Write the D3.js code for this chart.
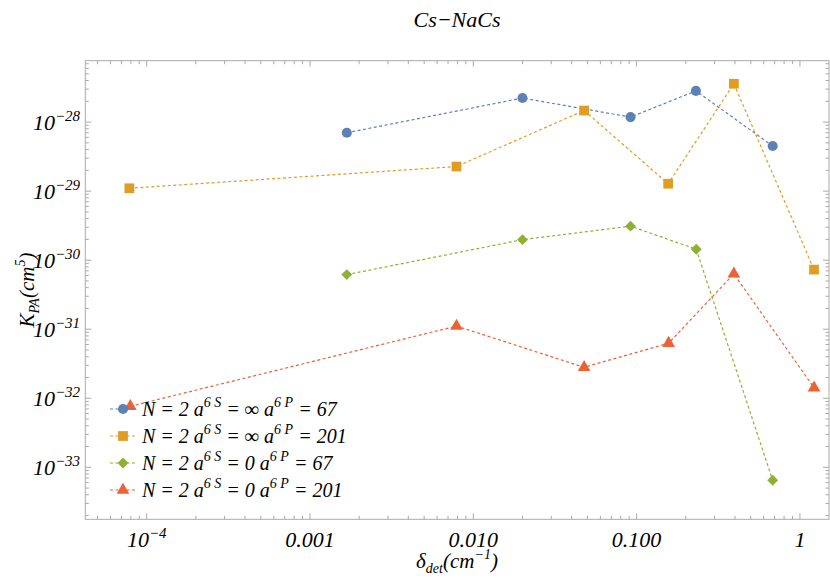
<!DOCTYPE html>
<html>
<head>
<meta charset="UTF-8">
<script src="https://d3js.org/d3.v7.min.js"></script>
<style>
  body { margin: 0; background: white; }
  svg text { font-family: "Liberation Serif", "Times New Roman", "DejaVu Serif", serif; font-style: italic; }
</style>
</head>
<body>
<svg></svg>
<script>
  const width = 830, height = 580;

  // data
  const xBlue = [0.00168, 0.0200, 0.0918, 0.2307, 0.681];
  const yBlue = [7.0e-29, 2.23e-28, 1.18e-28, 2.83e-28, 4.5e-29];
  const xOrange = [7.83e-5, 0.00789, 0.0477, 0.156, 0.394, 1.22];
  const yOrange = [1.10e-29, 2.27e-29, 1.47e-28, 1.28e-29, 3.59e-28, 7.3e-31];
  const xGreen = [0.00168, 0.0200, 0.0918, 0.2317, 0.681];
  const yGreen = [6.18e-31, 1.98e-30, 3.11e-30, 1.44e-30, 6.5e-34];
  const xRed = [7.94e-5, 0.00789, 0.0477, 0.157, 0.394, 1.22];
  const yRed = [7.66e-33, 1.11e-31, 2.81e-32, 6.27e-32, 6.33e-31, 1.42e-32];
  const legendInf = ["\u221E", "\u221E", "0", "0"];
  const legendN = ["67", "201", "67", "201"];
  const xTickLabels = ["10^-4", "0.001", "0.010", "0.100", "1"];
  const yTickPowers = [-28, -29, -30, -31, -32, -33];

  const series = [
    { xs: xBlue, ys: yBlue, color: "#5E81B5", shape: d3.symbolCircle, size: 80 },
    { xs: xOrange, ys: yOrange, color: "#E19C24", shape: d3.symbolSquare, size: 95 },
    { xs: xGreen, ys: yGreen, color: "#8FB032", shape: d3.symbolDiamond2, size: 75 },
    { xs: xRed, ys: yRed, color: "#EB6235", shape: d3.symbolTriangle, size: 70 }
  ];

  const svg = d3.select("svg").attr("width", width).attr("height", height);
  const L = 85.3, R = 829, T = 60.7, B = 519.3;

  const x = d3.scaleLog().domain([Math.pow(10, -4.376), Math.pow(10, 0.178)]).range([L, R]);
  const y = d3.scaleLog().domain([Math.pow(10, -33.753), Math.pow(10, -27.111)]).range([B, T]);

  // frame
  svg.append("rect").attr("x", L).attr("y", T).attr("width", R - L).attr("height", B - T)
    .attr("fill", "none").attr("stroke", "#aaa").attr("stroke-width", 1);

  // ticks
  const g = svg.append("g").attr("stroke", "#aaa").attr("stroke-width", 1);
  for (let e = -5; e <= 0; e++) {
    for (let m = 1; m < 10; m++) {
      const px = x(m * Math.pow(10, e));
      if (px < L || px > R) continue;
      const len = m == 1 ? 6 : 3.5;
      g.append("line").attr("x1", px).attr("x2", px).attr("y1", B).attr("y2", B - len);
      g.append("line").attr("x1", px).attr("x2", px).attr("y1", T).attr("y2", T + len);
    }
  }
  for (let e = -34; e <= -27; e++) {
    for (let m = 1; m < 10; m++) {
      const py = y(m * Math.pow(10, e));
      if (py < T || py > B) continue;
      const len = m == 1 ? 6 : 3.5;
      g.append("line").attr("y1", py).attr("y2", py).attr("x1", L).attr("x2", L + len);
      g.append("line").attr("y1", py).attr("y2", py).attr("x1", R).attr("x2", R - len);
    }
  }

  // x tick labels
  xTickLabels.forEach((lab, i) => {
    const t = svg.append("text").attr("x", x(Math.pow(10, i - 4))).attr("y", 547)
      .attr("text-anchor", "middle").attr("font-size", 22);
    if (lab.startsWith("10^")) {
      t.append("tspan").text("10");
      t.append("tspan").attr("dy", -9).attr("font-size", 15).text(lab.slice(3).replace("-", "\u2212"));
    } else t.text(lab);
  });

  // y tick labels
  yTickPowers.forEach(p => {
    const t = svg.append("text").attr("x", 80).attr("y", y(Math.pow(10, p)) + 8)
      .attr("text-anchor", "end").attr("font-size", 22);
    t.append("tspan").text("10");
    t.append("tspan").attr("dy", -9).attr("font-size", 15).text("\u2212" + (-p));
  });

  // axis labels
  const xl = svg.append("text").attr("x", 457).attr("y", 568).attr("text-anchor", "middle").attr("font-size", 21);
  xl.append("tspan").text("\u03B4");
  xl.append("tspan").attr("dy", 5).attr("font-size", 14).text("det");
  xl.append("tspan").attr("dy", -5).text("(cm");
  xl.append("tspan").attr("dy", -9).attr("font-size", 14).text("\u22121");
  xl.append("tspan").attr("dy", 9).text(")");

  const yl = svg.append("text").attr("transform", "translate(34,290) rotate(-90)")
    .attr("text-anchor", "middle").attr("font-size", 21);
  yl.append("tspan").text("K");
  yl.append("tspan").attr("dy", 5).attr("font-size", 14).text("PA");
  yl.append("tspan").attr("dy", -5).text("(cm");
  yl.append("tspan").attr("dy", -9).attr("font-size", 14).text("5");
  yl.append("tspan").attr("dy", 9).text(")");

  // title
  svg.append("text").attr("x", 457).attr("y", 27).attr("text-anchor", "middle")
    .attr("font-size", 22).text("Cs\u2212NaCs");

  // series
  const line = d3.line().x(d => x(d[0])).y(d => y(d[1]));
  series.forEach(s => {
    const pts = s.xs.map((v, i) => [v, s.ys[i]]);
    svg.append("path").datum(pts).attr("d", line).attr("fill", "none")
      .attr("stroke", s.color).attr("stroke-width", 1.2).attr("stroke-dasharray", "3,2.5");
    svg.selectAll(null).data(pts).enter().append("path")
      .attr("d", d3.symbol().type(s.shape).size(s.size))
      .attr("transform", d => "translate(" + x(d[0]) + "," + y(d[1]) + ")")
      .attr("fill", s.color);
  });

  // legend
  series.forEach((s, i) => {
    const ly = 409 + i * 27;
    svg.append("line").attr("x1", 110).attr("x2", 137).attr("y1", ly).attr("y2", ly)
      .attr("stroke", s.color).attr("stroke-width", 1.2).attr("stroke-dasharray", "3,2.5");
    svg.append("path").attr("d", d3.symbol().type(s.shape).size(s.size))
      .attr("transform", "translate(123," + ly + ")").attr("fill", s.color);
    const t = svg.append("text").attr("x", 142).attr("y", ly + 7).attr("font-size", 20);
    t.append("tspan").text("N = 2 a");
    t.append("tspan").attr("dy", -9).attr("font-size", 14).text("6 S");
    t.append("tspan").attr("dy", 9).text(" = " + legendInf[i] + " a");
    t.append("tspan").attr("dy", -9).attr("font-size", 14).text("6 P");
    t.append("tspan").attr("dy", 9).text(" = " + legendN[i]);
  });
</script>
</body>
</html>
